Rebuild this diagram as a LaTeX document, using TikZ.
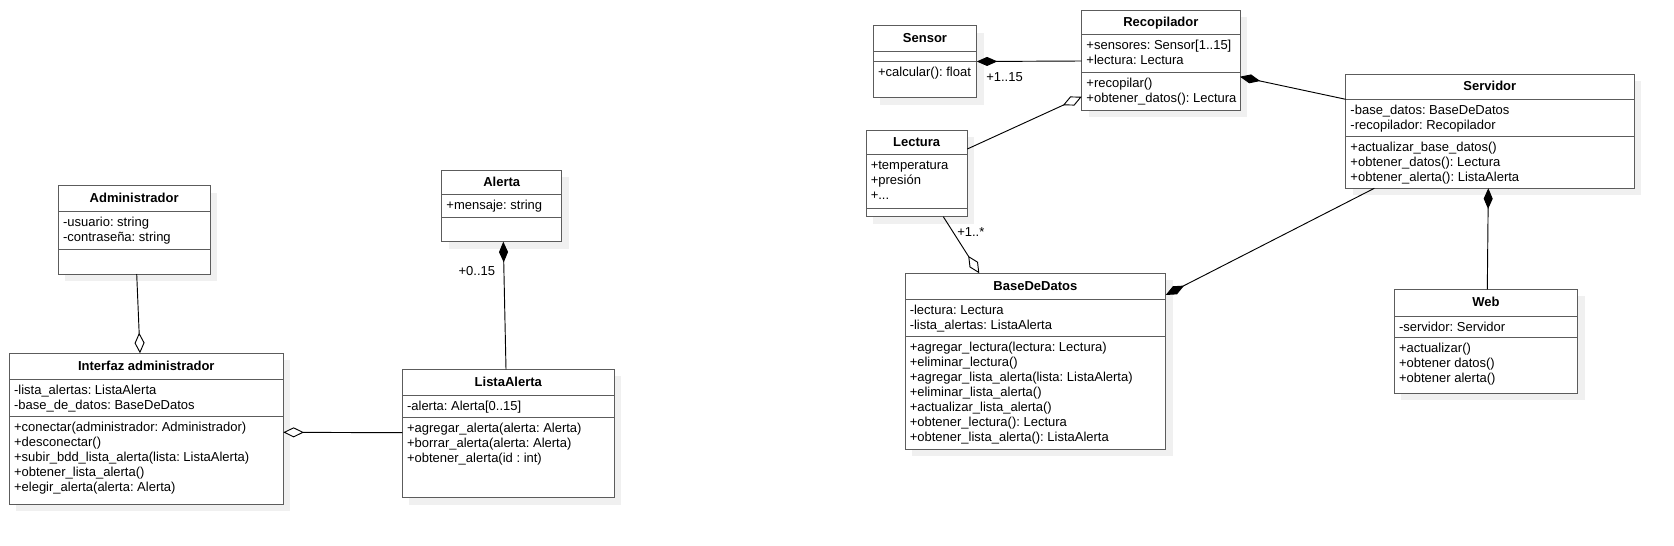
\documentclass[tikz,border=0pt]{standalone}
\usepackage{fontspec}
\setmainfont{Liberation Sans}
\usetikzlibrary{arrows.meta,fit}
\definecolor{boxc}{HTML}{5C5C5C}
\definecolor{shadowc}{HTML}{F0F0F0}
\newcommand\ls{\rule[-3.25pt]{0pt}{11.25pt}}
\frenchspacing
\tikzset{
  classbox/.style={draw=boxc, fill=white, line width=0.75pt, inner sep=0pt, outer sep=0pt},
  sepline/.style={draw=boxc, line width=0.75pt},
  titletext/.style={anchor=base, inner sep=0pt, font=\fontsize{9.75}{11.25}\selectfont\bfseries},
  membertext/.style={anchor=north west, inner sep=0pt, align=left, font=\fontsize{9.75}{11.25}\selectfont},
  labeltext/.style={anchor=base west, inner sep=0pt, font=\fontsize{9.75}{11.25}\selectfont},
  aggr/.style={draw=black, line width=0.7pt, -{Diamond[length=15.5pt, width=7.5pt, fill=white, line width=0.7pt]}},
  comp/.style={draw=black, line width=0.7pt, -{Diamond[length=15.5pt, width=6.8pt, fill=black, line width=0.7pt]}}
}
\newcommand\umlclass[8]{%
  \fill[shadowc] (#2+7,#3+7) rectangle (#4+7,#5+7);
  \coordinate (#1-nw) at (#2,#3);
  \coordinate (#1-se) at (#4,#5);
  \node[classbox, fit=(#1-nw)(#1-se)] (#1) {};
  \coordinate (#1-a) at (#2,#6);
  \coordinate (#1-m) at (#2,#7);
  \draw[sepline] (#2,#6) -- (#4,#6);
  \draw[sepline] (#2,#7) -- (#4,#7);
  \node[titletext] (#1-title) at ({(#2+#4)/2},{(#3+#6)/2+4}) {#8};
}
\newcommand\umlattr[2]{\node[membertext] (#1-attrs) at ([shift={(4.5,4.33)}]#1-a) {#2};}
\newcommand\umlmeth[2]{\node[membertext] (#1-meths) at ([shift={(4.5,4.33)}]#1-m) {#2};}
\begin{document}
\begin{tikzpicture}[x=0.75pt, y=-0.75pt]
\fill[white] (0,0) rectangle (1674,546);
\useasboundingbox (0,0) rectangle (1674,546);

% classes
\umlclass{admin}{58.3}{185.7}{210}{274}{211.7}{249}{Administrador}
\umlattr{admin}{\ls -usuario: string\\\ls -contraseña: string}

\umlclass{interfaz}{9.3}{353.3}{283.3}{504.3}{379}{416.7}{Interfaz administrador}
\umlattr{interfaz}{\ls -lista\_alertas: ListaAlerta\\\ls -base\_de\_datos: BaseDeDatos}
\umlmeth{interfaz}{\ls +conectar(administrador: Administrador)\\\ls +desconectar()\\\ls +subir\_bdd\_lista\_alerta(lista: ListaAlerta)\\\ls +obtener\_lista\_alerta()\\\ls +elegir\_alerta(alerta: Alerta)}

\umlclass{alerta}{441.7}{170}{561.7}{241.7}{194.3}{217.7}{Alerta}
\umlattr{alerta}{\ls +mensaje: string}

\umlclass{listaalerta}{402.3}{369.3}{614.3}{497.7}{395.7}{417.3}{ListaAlerta}
\umlattr{listaalerta}{\ls -alerta: Alerta[0..15]}
\umlmeth{listaalerta}{\ls +agregar\_alerta(alerta: Alerta)\\\ls +borrar\_alerta(alerta: Alerta)\\\ls +obtener\_alerta(id : int)}

\umlclass{sensor}{873.3}{25.7}{976.7}{97.7}{51}{61}{Sensor}
\umlmeth{sensor}{\ls +calcular(): float}

\umlclass{recopilador}{1081.7}{10}{1240}{110}{34.3}{72.3}{Recopilador}
\umlattr{recopilador}{\ls +sensores: Sensor[1..15]\\\ls +lectura: Lectura}
\umlmeth{recopilador}{\ls +recopilar()\\\ls +obtener\_datos(): Lectura}

\umlclass{lectura}{866}{130}{967.3}{216.7}{154.3}{208.3}{Lectura}
\umlattr{lectura}{\ls +temperatura\\\ls +presión\\\ls +...}

\umlclass{servidor}{1345.7}{74}{1634}{188.3}{99}{136.7}{Servidor}
\umlattr{servidor}{\ls -base\_datos: BaseDeDatos\\\ls -recopilador: Recopilador}
\umlmeth{servidor}{\ls +actualizar\_base\_datos()\\\ls +obtener\_datos(): Lectura\\\ls +obtener\_alerta(): ListaAlerta}

\umlclass{web}{1394.3}{289.3}{1577.7}{393.3}{316}{337.7}{Web}
\umlattr{web}{\ls -servidor: Servidor}
\umlmeth{web}{\ls +actualizar()\\\ls +obtener datos()\\\ls +obtener alerta()}

\umlclass{bdd}{905}{273.3}{1165.7}{449.3}{299}{336.7}{BaseDeDatos}
\umlattr{bdd}{\ls -lectura: Lectura\\\ls -lista\_alertas: ListaAlerta}
\umlmeth{bdd}{\ls +agregar\_lectura(lectura: Lectura)\\\ls +eliminar\_lectura()\\\ls +agregar\_lista\_alerta(lista: ListaAlerta)\\\ls +eliminar\_lista\_alerta()\\\ls +actualizar\_lista\_alerta()\\\ls +obtener\_lectura(): Lectura\\\ls +obtener\_lista\_alerta(): ListaAlerta}

% connectors
\draw[aggr] (136.7,0 |- admin.south) -- (140,0 |- interfaz.north);
\draw[aggr] (listaalerta.west |- 0,432.7) -- (interfaz.east |- 0,432.3);
\draw[comp] (506,0 |- listaalerta.north) -- (503.3,0 |- alerta.south);
\node[labeltext] (lbl015) at (458.3,275) {+0..15};
\draw[comp] (recopilador.west |- 0,61) -- (sensor.east |- 0,61.5);
\node[labeltext] (lbl115) at (986,81.7) {+1..15};
\draw[aggr] (lectura.east |- 0,149) -- (recopilador.west |- 0,96.7);
\draw[comp] (servidor.west |- 0,99.3) -- (recopilador.east |- 0,76.7);
\draw[comp] (1487.3,0 |- web.north) -- (1488.3,0 |- servidor.south);
\draw[comp] (1374.3,0 |- servidor.south) -- (bdd.east |- 0,295);
\draw[aggr] (943.3,0 |- lectura.south) -- (979.3,0 |- bdd.north);
\node[labeltext] (lbl1n) at (957,236.7) {+1..*};
\end{tikzpicture}
\end{document}
